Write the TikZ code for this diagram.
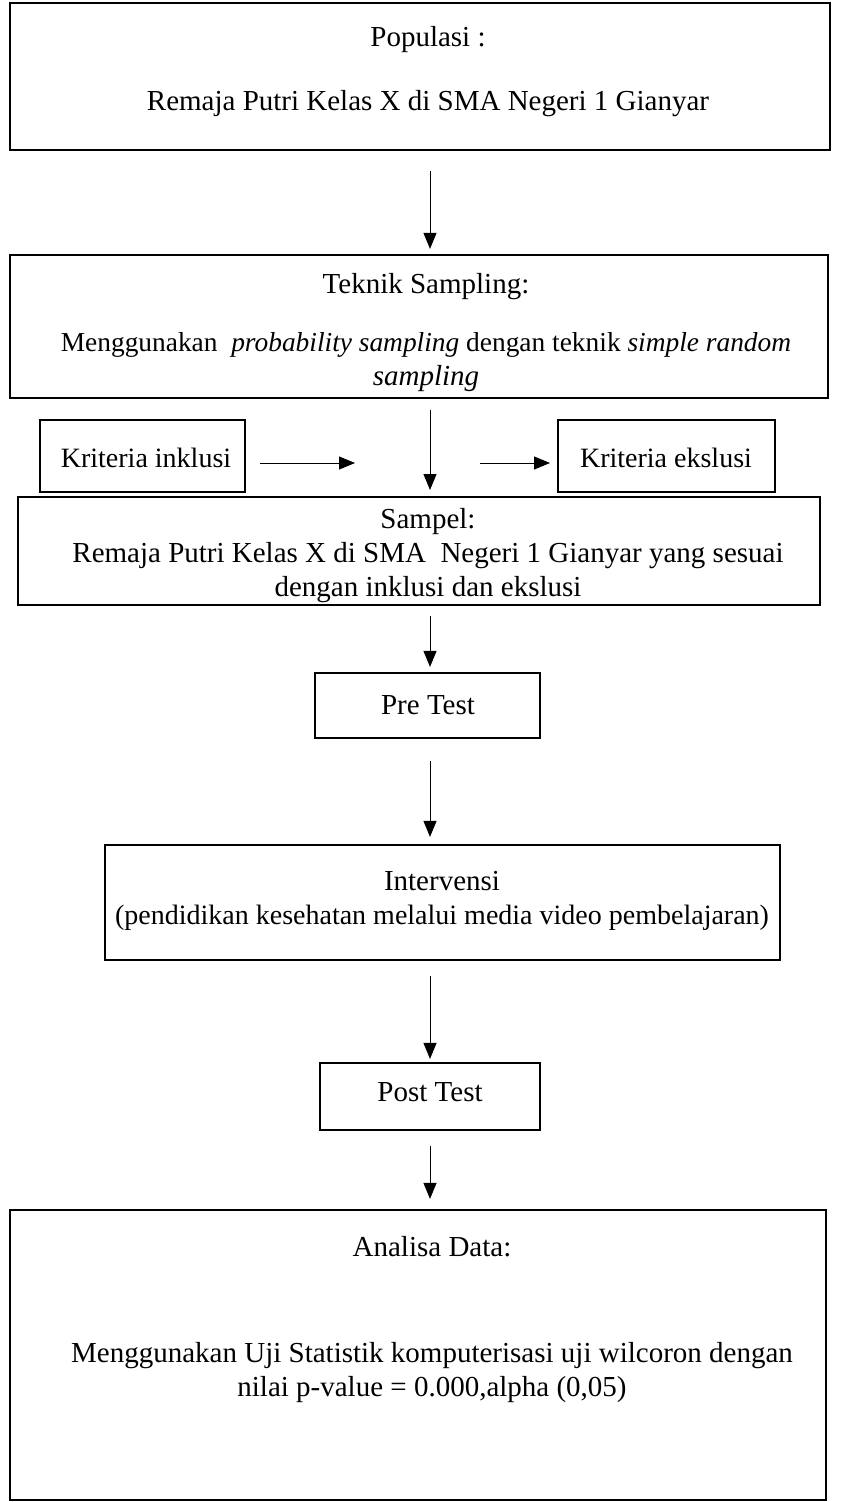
\documentclass[tikz,border=0pt]{standalone}
\usepackage{fontspec}
\setmainfont{Liberation Serif}
\usetikzlibrary{arrows.meta,fit}
\begin{document}
\begin{tikzpicture}[x=0.5pt,y=-0.5pt,
  box/.style={draw, line width=1.1pt, inner sep=0pt},
  txt/.style={align=center, font=\fontsize{14.5}{17}\selectfont, inner sep=0pt},
  arr/.style={line width=0.5pt, -{Triangle[length=8pt,width=6.5pt]}}]
\useasboundingbox (0,0) rectangle (840,1502);
% boxes
\node[box, fit={(10,3) (830,150)}] (pop) {};
\node[box, fit={(10,255) (828,398)}] (tek) {};
\node[box, fit={(40,420) (245,492)}] (kin) {};
\node[box, fit={(558,420) (775,492)}] (kek) {};
\node[box, fit={(18,497) (820,605)}] (sam) {};
\node[box, fit={(315,673) (540,738)}] (pre) {};
\node[box, fit={(105,845) (780,960)}] (int) {};
\node[box, fit={(320,1063) (540,1130)}] (post) {};
\node[box, fit={(10,1210) (826,1500)}] (ana) {};
% texts
\node[txt] (popt) at (428,72) {Populasi :\\[15pt] Remaja Putri Kelas X di SMA Negeri 1 Gianyar};
\node[txt] (tekt) at (426,333) {Teknik Sampling:\\[12pt] {\fontsize{13.7}{17}\selectfont Menggunakan\ \ \textit{probability sampling} dengan teknik \textit{simple random}}\\ \textit{sampling}};
\node[txt] (kint) at (146,458) {\fontsize{14}{17}\selectfont Kriteria inklusi};
\node[txt] (kekt) at (666,458) {\fontsize{14}{17}\selectfont Kriteria ekslusi};
\node[txt] (samt) at (428,556) {Sampel:\\ Remaja Putri Kelas X di SMA\ \ Negeri 1 Gianyar yang sesuai\\ dengan inklusi dan ekslusi};
\node[txt] (pret) at (428,705) {Pre Test};
\node[txt] (intt) at (442,901) {Intervensi\\ {\fontsize{14}{17}\selectfont (pendidikan kesehatan melalui media video pembelajaran)}};
\node[txt] (postt) at (430,1092) {Post Test};
\node[txt] (anat) at (432,1320) {Analisa Data:\\[36pt] Menggunakan Uji Statistik komputerisasi uji wilcoron dengan\\ nilai p-value = 0.000,alpha (0,05)};
% free ends of the side arrows
\coordinate (l1) at (260,463);
\coordinate (l2) at (355,463);
\coordinate (r1) at (480,463);
\coordinate (r2) at (550,463);
\coordinate (m1) at (430,410);
\coordinate (m2) at (430,490);
% connectors
\draw[arr, shorten <=10pt, shorten >=2.5pt] (pop.south -| 430,0) -- (tek.north -| 430,0);
\draw[arr] (m1) -- (m2);
\draw[arr] (l1) -- (l2);
\draw[arr] (r1) -- (r2);
\draw[arr, shorten <=5pt, shorten >=2.5pt] (sam.south -| 430,0) -- (pre.north -| 430,0);
\draw[arr, shorten <=11pt, shorten >=3.5pt] (pre.south -| 430,0) -- (int.north -| 430,0);
\draw[arr, shorten <=7.5pt, shorten >=1.5pt] (int.south -| 430,0) -- (post.north -| 430,0);
\draw[arr, shorten <=7.5pt, shorten >=5pt] (post.south -| 430,0) -- (ana.north -| 430,0);
\end{tikzpicture}
\end{document}
